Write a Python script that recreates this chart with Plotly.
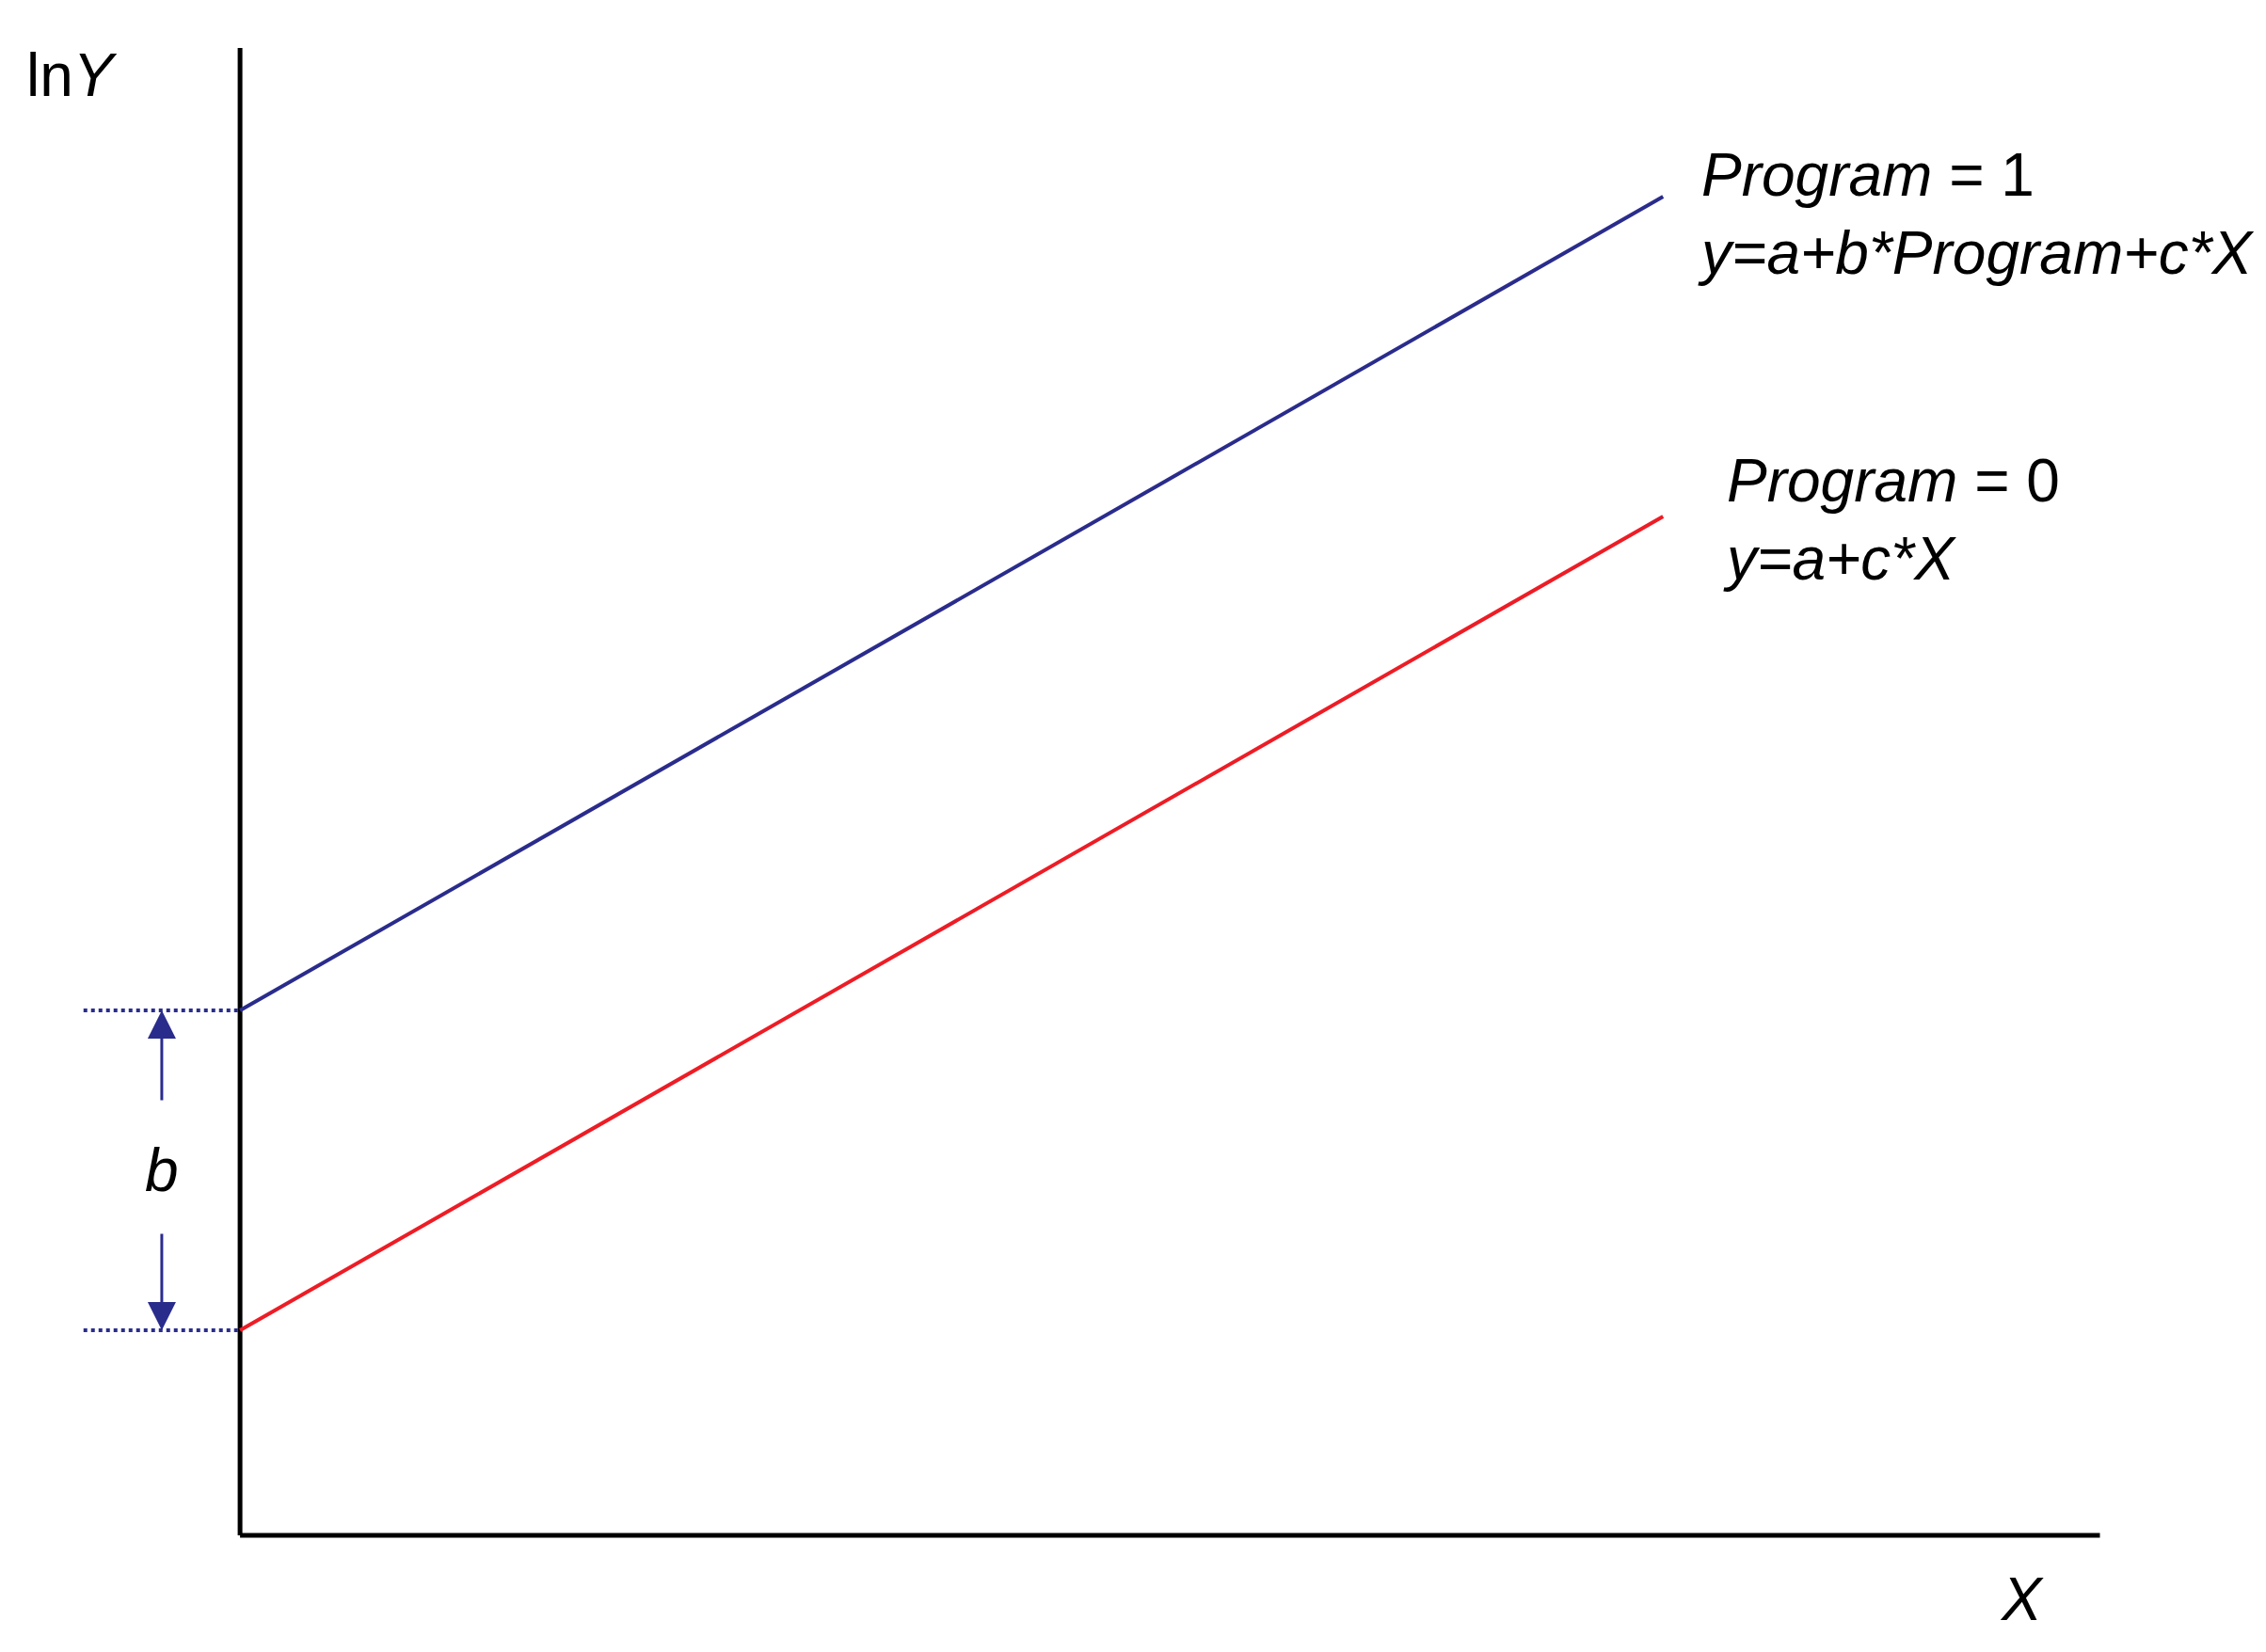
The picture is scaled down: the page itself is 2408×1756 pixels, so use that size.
import plotly.graph_objects as go

x_pts = [0, 10]
program0 = [2.18, 10.83]
program1 = [5.58, 14.23]
x_axis_end = 13.07
y_axis_end = 15.81
dot_start = -1.10
arrow_x = -0.55

BLUE = "#2A2C8C"
RED = "#EE1C25"
F = "Liberation Sans"
fig = go.Figure()
fig.add_trace(go.Scatter(x=[0, x_axis_end], y=[0, 0], mode="lines", line=dict(color="black", width=5)))
fig.add_trace(go.Scatter(x=[0, 0], y=[0, y_axis_end], mode="lines", line=dict(color="black", width=5)))
fig.add_trace(go.Scatter(x=x_pts, y=program1, mode="lines", line=dict(color=BLUE, width=4)))
fig.add_trace(go.Scatter(x=x_pts, y=program0, mode="lines", line=dict(color=RED, width=4)))
for yv in (program0[0], program1[0]):
    fig.add_trace(go.Scatter(x=[dot_start, 0], y=[yv, yv], mode="lines", line=dict(color=BLUE, width=4, dash="dot")))

# arrows
fig.add_annotation(x=arrow_x, y=program1[0], ax=arrow_x, ay=program1[0] - 0.97, xref="x", yref="y", axref="x", ayref="y",
                   showarrow=True, arrowhead=2, arrowsize=2, arrowwidth=3, arrowcolor=BLUE, text="")
fig.add_annotation(x=arrow_x, y=program0[0], ax=arrow_x, ay=program0[0] + 1.04, xref="x", yref="y", axref="x", ayref="y",
                   showarrow=True, arrowhead=2, arrowsize=2, arrowwidth=3, arrowcolor=BLUE, text="")
font = dict(family=F, size=64, color="black")
fig.add_annotation(x=arrow_x, y=(program0[0] + program1[0]) / 2, text="<i>b</i>", showarrow=False, font=font)
fig.add_annotation(x=-0.85, y=15.52, text="ln<i>Y</i>", showarrow=False, font=font, xanchor="right")
fig.add_annotation(x=x_axis_end - 0.55, y=-0.68, text="<i>X</i>", showarrow=False, font=font)
fig.add_annotation(x=10.23, y=14.05, text="<i>Program</i> = 1<br><i>y=a+b*Program+c*X</i>", showarrow=False,
                   font=font, xanchor="left", align="left")
fig.add_annotation(x=10.41, y=10.8, text="<i>Program</i> = 0<br><i>y=a+c*X</i>", showarrow=False,
                   font=font, xanchor="left", align="left")

fig.update_layout(width=2408, height=1756, margin=dict(l=0, r=0, t=0, b=0), showlegend=False,
                  plot_bgcolor="white", paper_bgcolor="white",
                  xaxis=dict(range=[-1.634, 14.29], visible=False),
                  yaxis=dict(range=[-1.32, 16.24], visible=False))
fig.write_html("out.html")
